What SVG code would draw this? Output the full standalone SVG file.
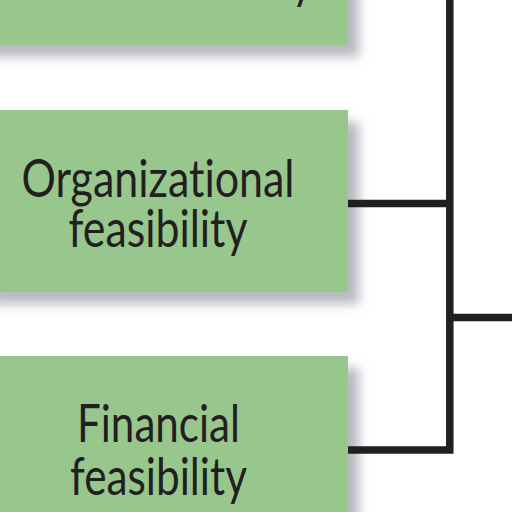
<svg xmlns="http://www.w3.org/2000/svg" width="512" height="512" viewBox="0 0 512 512">
  <defs>
    <filter id="shadow" x="-10%" y="-10%" width="130%" height="140%">
      <feOffset in="SourceAlpha" dx="11" dy="12" result="off"/>
      <feGaussianBlur in="off" stdDeviation="5.5" result="blur"/>
      <feFlood flood-color="#9a9ca6" flood-opacity="0.7"/>
      <feComposite in2="blur" operator="in" result="sh"/>
      <feMerge><feMergeNode in="sh"/><feMergeNode in="SourceGraphic"/></feMerge>
    </filter>
  </defs>
  <style>
    .box { fill: #97c78d; filter: url(#shadow); }
    .lbl { font-family: Lato, "Open Sans", "Liberation Sans", sans-serif; font-size: 52px; fill: #231f20; text-anchor: middle; font-variant-ligatures: none; }
    .conn { fill: none; stroke: #231f20; stroke-width: 7.5; stroke-linejoin: miter; stroke-linecap: butt; }
  </style>
  <rect width="512" height="512" fill="#ffffff"/>
  <g id="node-market">
    <rect class="box" x="-20" y="-40" width="368" height="85"/>
    <text class="lbl" x="158" y="-2" textLength="310" lengthAdjust="spacingAndGlyphs">market feasibility</text>
  </g>
  <g id="node-organizational">
    <rect class="box" x="-20" y="110" width="368" height="182"/>
    <text class="lbl"><tspan x="158" y="197" textLength="273" lengthAdjust="spacingAndGlyphs">Organizational</tspan><tspan x="158" y="247" textLength="179" lengthAdjust="spacingAndGlyphs">feasibility</tspan></text>
  </g>
  <g id="node-financial">
    <rect class="box" x="-20" y="356" width="368" height="200"/>
    <text class="lbl"><tspan x="158.5" y="442" textLength="163" lengthAdjust="spacingAndGlyphs">Financial</tspan><tspan x="158.5" y="495" textLength="177" lengthAdjust="spacingAndGlyphs">feasibility</tspan></text>
  </g>
  <g id="connectors">
    <path class="conn" d="M348,203.5 H449.8"/>
    <path class="conn" d="M348,450 H449.8 V-5"/>
    <path class="conn" d="M449.8,317.5 H512"/>
  </g>
</svg>
